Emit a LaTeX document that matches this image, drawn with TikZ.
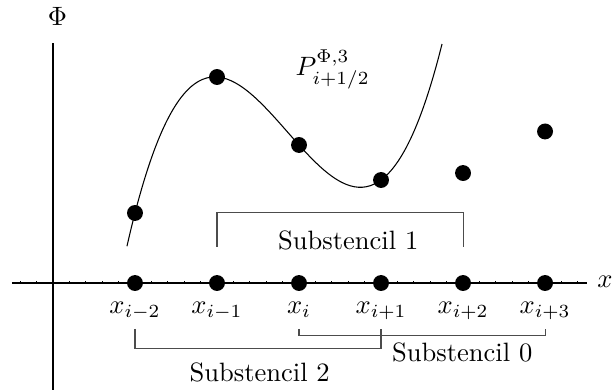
\documentclass[tikz,border=0pt]{standalone}
\usepackage{amsmath,amssymb}
\usepackage{tikz}
\usetikzlibrary{positioning,calc}

\begin{document}
\begin{tikzpicture}[x=30.9pt,y=30.9pt,
  pt/.style={circle,fill=black,inner sep=0pt,minimum size=6pt},
  br/.style={draw=black!70,line width=0.4pt},
  ax/.style={line width=0.4pt}]
  \useasboundingbox (-0.646,-1.293) rectangle (6.841,3.451);
  % axes
  \coordinate (xl) at (-0.5,0);
  \coordinate (xr) at (6.51,0);
  \coordinate (yb) at (0,-1.3);
  \coordinate (yt) at (0,2.93);
  \draw[ax] (xl) -- (xr);
  \draw[ax] (yb) -- (yt);
  \foreach \t in {-0.4,-0.2,0.2,0.4,...,6.4}
    \draw[line width=0.3pt] (\t,0) -- (\t,0.03);
  \node (xlab) at (6.73,0.01) {$x$};
  \node (philab) at (0.055,3.256) {$\Phi$};
  % interpolating polynomial
  \draw[line width=0.4pt] plot[domain=-2.098:1.744,samples=80,smooth]
    ({3+\x},{(39.5*\x*\x*\x+16.5*\x*\x-91*\x+138)/82});
  \node (plab) at (3.41,2.60) {$P^{\Phi,3}_{i+1/2}$};
  % grid points
  \node[pt] (xm2) at (1,0) {};
  \node[pt] (xm1) at (2,0) {};
  \node[pt] (xi)  at (3,0) {};
  \node[pt] (xp1) at (4,0) {};
  \node[pt] (xp2) at (5,0) {};
  \node[pt] (xp3) at (6,0) {};
  \node[below=0.02 of xm2] (lm2) {$x_{i-2}$};
  \node[below=0.02 of xm1] (lm1) {$x_{i-1}$};
  \node[below=0.02 of xi]  (li)  {$x_{i}$};
  \node[below=0.02 of xp1] (lp1) {$x_{i+1}$};
  \node[below=0.02 of xp2] (lp2) {$x_{i+2}$};
  \node[below=0.02 of xp3] (lp3) {$x_{i+3}$};
  % values
  \node[pt] (fm2) at (1,0.854) {};
  \node[pt] (fm1) at (2,2.512) {};
  \node[pt] (fi)  at (3,1.683) {};
  \node[pt] (fp1) at (4,1.256) {};
  \node[pt] (fp2) at (5,1.341) {};
  \node[pt] (fp3) at (6,1.848) {};
  % substencils
  \draw[br] ($(xm1)+(0,0.44)$) -- ++(0,0.415) -| ($(xp2)+(0,0.44)$);
  \node (s1) at (3.60,0.52) {Substencil 1};
  \draw[br] ($(xm2)+(0,-0.56)$) -- ++(0,-0.244) -| ($(xp1)+(0,-0.56)$);
  \node (s2) at (2.52,-1.085) {Substencil 2};
  \draw[br] ($(xi)+(0,-0.56)$) -- ++(0,-0.085) -| ($(xp3)+(0,-0.56)$);
  \node (s0) at (4.99,-0.85) {Substencil 0};
\end{tikzpicture}
\end{document}
